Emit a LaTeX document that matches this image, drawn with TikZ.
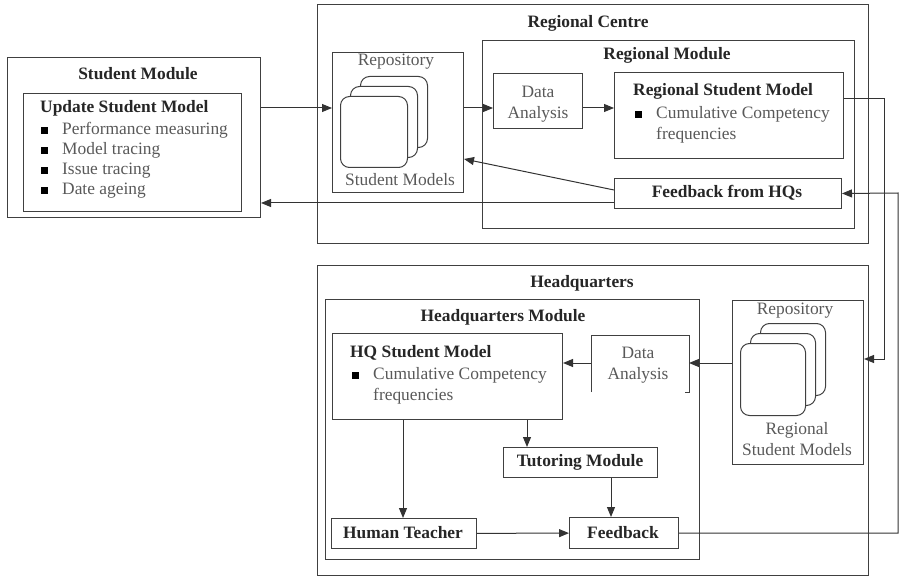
\documentclass[tikz,border=0pt]{standalone}
\usepackage{fontspec}
\setmainfont{Liberation Serif}
\usetikzlibrary{shapes,arrows.meta,positioning}
\newcommand{\bul}{\makebox[22pt][l]{\hspace*{1pt}\textcolor{black}{\rule[0.5pt]{6.5pt}{6.5pt}}}}

\begin{document}
\begin{tikzpicture}[x=1pt,y=-1pt,font=\fontsize{17.4}{20}\selectfont]
 \tikzset{box node/.style={rectangle, draw=black!75, line width=1pt,
 		inner sep=0pt, anchor=north west}, }
 \tikzset{card node/.style={box node, rounded corners=9pt, fill=white}, }
 \tikzset{title node/.style={font=\fontsize{17.4}{20}\selectfont\bfseries,
 		text=black!85, inner sep=0pt}, }
 \tikzset{item node/.style={align=left, text=black!65, inner sep=0pt}, }
 \tikzset{linea/.style={draw=black!80, line width=1pt,
 		-{Triangle[length=10pt,width=8pt]}},}
 \useasboundingbox (0,0) rectangle (901,577);
 % boxes
 \node[box node, minimum width=253pt, minimum height=160pt] (1) at (7,57) {};
 \node[box node, minimum width=218pt, minimum height=118pt] (2) at (23,93) {};
 \node[box node, minimum width=551pt, minimum height=239pt] (3) at (317,4) {};
 \node[box node, minimum width=131pt, minimum height=140pt] (4) at (332,52) {};
 \node[box node, minimum width=372pt, minimum height=188pt] (5) at (482,40) {};
 \node[box node, minimum width=89pt, minimum height=55pt] (6) at (493,73) {};
 \node[box node, minimum width=229pt, minimum height=86pt] (7) at (614,72) {};
 \node[box node, minimum width=227pt, minimum height=30pt] (8) at (614,178) {};
 \node[box node, minimum width=551pt, minimum height=310pt] (9) at (317,265) {};
 \node[box node, minimum width=374pt, minimum height=260pt] (10) at (325,299) {};
 \node[box node, minimum width=230pt, minimum height=86pt] (11) at (332,333) {};
 \node[box node, draw=none, minimum width=97pt, minimum height=56pt] (12) at (591,335) {};
 \node[box node, minimum width=131pt, minimum height=164pt] (13) at (732,300) {};
 \node[box node, minimum width=154pt, minimum height=30pt] (14) at (503,447) {};
 \node[box node, minimum width=145pt, minimum height=30pt] (15) at (331,518) {};
 \node[box node, minimum width=109pt, minimum height=31pt] (16) at (569,517) {};
 \draw[draw=black!75, line width=1pt] (12.south west) -- (12.north west)
 	-- (12.north east) -- (12.south east) -- ++(-4,0);
 % repository cards
 \foreach \d in {20,10,0}{
 	\node[card node, minimum width=67pt, minimum height=71pt] (a\d) at (340+\d,96-\d) {};
 	\node[card node, minimum width=65pt, minimum height=72pt] (b\d) at (740+\d,343-\d) {};
 }
 % texts
 \node[title node] (t1) at (138,74) {Student Module};
 \node[title node, anchor=west] (t2) at (40,108) {Update Student Model};
 \node[item node, anchor=west] (l2) at (40,160) {\bul Performance measuring\\
 	\bul Model tracing\\ \bul Issue tracing\\ \bul Date ageing};
 \node[title node] (t3) at (588,23) {Regional Centre};
 \node[item node] (t4) at (396,62) {Repository};
 \node[item node] (s4) at (400,180) {Student Models};
 \node[title node] (t5) at (667,55) {Regional Module};
 \node[item node, align=center, font=\fontsize{17.4}{21}\selectfont] (t6) at (538,104.5) {Data\\Analysis};
 \node[title node, anchor=west] (t7) at (633,91) {Regional Student Model};
 \node[item node, anchor=west, font=\fontsize{17.4}{21}\selectfont] (l7) at (634,124.5)
 	{\bul Cumulative Competency\\ \hspace*{22pt}frequencies};
 \node[title node] (t8) at (727,193) {Feedback from HQs};
 \node[title node] (t9) at (582,283) {Headquarters};
 \node[title node] (t10) at (503,317) {Headquarters Module};
 \node[title node, anchor=west] (t11) at (350,353) {HQ Student Model};
 \node[item node, anchor=west, font=\fontsize{17.4}{21}\selectfont] (l11) at (351,385.5)
 	{\bul Cumulative Competency\\ \hspace*{22pt}frequencies};
 \node[item node, align=center, font=\fontsize{17.4}{21}\selectfont] (t12) at (638,365) {Data\\Analysis};
 \node[item node] (t13) at (795,311) {Repository};
 \node[item node, align=center, font=\fontsize{17.4}{21}\selectfont] (s13) at (797,439) {Regional\\Student Models};
 \node[title node] (t14) at (580,462) {Tutoring Module};
 \node[title node] (t15) at (403,533) {Human Teacher};
 \node[title node] (t16) at (623,533) {Feedback};
 % connectors
 \coordinate (r1) at (0,108);
 \coordinate (r2) at (0,159);
 \coordinate (r3) at (0,190);
 \coordinate (r4) at (0,203);
 \coordinate (r5) at (0,99);
 \coordinate (r7) at (0,363);
 \coordinate (k1) at (884,359);
 \coordinate (k2) at (898,193);
 \coordinate (k3) at (527,0);
 \coordinate (k4) at (403,0);
 \coordinate (k5) at (611,0);
 \foreach \x /\y in {1/4,4/6,6/7}
 	\draw[linea] (\x.east |- r1) -- (\y.west |- r1);
 \draw[linea] (8.west |- r3) -- (4.east |- r2);
 \draw[linea] (8.west |- r4) -- (1.east |- r4);
 \draw[linea] (7.east |- r5) -| (k1) -- (13.east |- k1);
 \foreach \x /\y in {13/12,12/11}
 	\draw[linea] (\x.west |- r7) -- (\y.east |- r7);
 \draw[linea] (11.south -| k3) -- (14.north -| k3);
 \draw[linea] (11.south -| k4) -- (15.north -| k4);
 \draw[linea] (14.south -| k5) -- (16.north -| k5);
 \draw[linea] (15) -- (16);
 \draw[linea] (16.east) -| (k2) -- (8.east);
\end{tikzpicture}
\end{document}
